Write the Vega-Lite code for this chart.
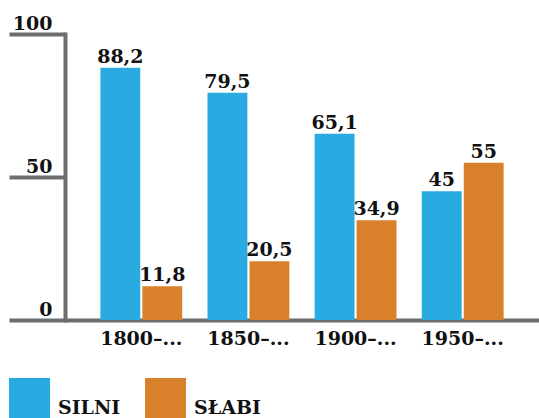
{
  "$schema": "https://vega.github.io/schema/vega-lite/v6.json",
  "autosize": "none",
  "width": 474,
  "height": 286,
  "padding": {"left": 65, "top": 34, "right": 0, "bottom": 98},
  "background": "#ffffff",
  "data": {
    "values": [
      {"okres": "1800–...", "grupa": "SILNI", "v": 88.2, "lbl": "88,2"},
      {"okres": "1800–...", "grupa": "SŁABI", "v": 11.8, "lbl": "11,8"},
      {"okres": "1850–...", "grupa": "SILNI", "v": 79.5, "lbl": "79,5"},
      {"okres": "1850–...", "grupa": "SŁABI", "v": 20.5, "lbl": "20,5"},
      {"okres": "1900–...", "grupa": "SILNI", "v": 65.1, "lbl": "65,1"},
      {"okres": "1900–...", "grupa": "SŁABI", "v": 34.9, "lbl": "34,9"},
      {"okres": "1950–...", "grupa": "SILNI", "v": 45, "lbl": "45"},
      {"okres": "1950–...", "grupa": "SŁABI", "v": 55, "lbl": "55"}
    ]
  },
  "encoding": {
    "x": {
      "field": "okres", "type": "nominal", "sort": null, "title": null,
      "scale": {"paddingInner": 0.236, "paddingOuter": 0.33},
      "axis": {
        "domainColor": "#6d6e71", "domainWidth": 4, "ticks": false,
        "labelAngle": 0, "labelPadding": 24, "labelBaseline": "alphabetic",
        "labelFont": "DejaVu Serif", "labelFontSize": 19, "labelFontWeight": "bold",
        "labelColor": "#111111", "grid": false
      }
    },
    "xOffset": {
      "field": "grupa", "type": "nominal", "sort": ["SILNI", "SŁABI"],
      "scale": {"paddingInner": 0.05}
    },
    "y": {
      "field": "v", "type": "quantitative", "title": null,
      "scale": {"domain": [0, 100], "nice": false},
      "axis": {
        "values": [0, 50, 100], "grid": false,
        "domainColor": "#6d6e71", "domainWidth": 4, "domainCap": "square",
        "tickColor": "#6d6e71", "tickWidth": 4, "tickSize": 56,
        "labelPadding": -43, "labelAlign": "right", "labelBaseline": "alphabetic",
        "labelOffset": -5, "labelFlush": false, "labelOverlap": false,
        "labelFont": "DejaVu Serif", "labelFontSize": 19, "labelFontWeight": "bold",
        "labelColor": "#111111"
      }
    }
  },
  "layer": [
    {
      "mark": {"type": "bar", "y2Offset": -8},
      "encoding": {
        "color": {
          "field": "grupa", "type": "nominal",
          "scale": {"domain": ["SILNI", "SŁABI"], "range": ["#29abe2", "#d9802a"]},
          "legend": {
            "title": null, "orient": "none", "legendX": -56, "legendY": 344,
            "direction": "horizontal", "symbolType": "square", "symbolSize": 1681,
            "symbolStrokeWidth": 0, "symbolOpacity": 1,
            "labelFont": "DejaVu Serif", "labelFontSize": 19, "labelFontWeight": "bold",
            "labelColor": "#111111", "labelOffset": 8, "labelBaseline": "top",
            "columnPadding": 24
          }
        }
      }
    },
    {
      "mark": {
        "type": "text", "dy": -5, "baseline": "alphabetic",
        "font": "DejaVu Serif", "fontSize": 19, "fontWeight": "bold", "color": "#111111"
      },
      "encoding": {"text": {"field": "lbl"}}
    }
  ],
  "config": {
    "font": "DejaVu Serif",
    "view": {"stroke": null},
    "legend": {"labelFont": "DejaVu Serif", "labelFontWeight": "bold"}
  }
}
